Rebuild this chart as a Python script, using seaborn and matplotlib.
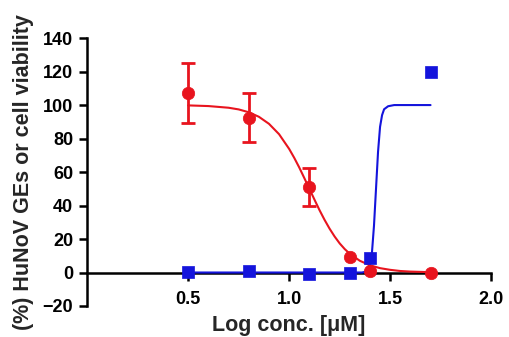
import numpy as np
import pandas as pd
import matplotlib
matplotlib.use("Agg")
import matplotlib.pyplot as plt
import seaborn as sns

# measured points (log conc.)
red_x = [0.5, 0.8, 1.1, 1.3, 1.4, 1.7]
red_y = [107, 92.5, 51, 9.5, 1, 0]
red_err = [18, 14.5, 11.5, 0, 0, 0]

blue_x = [0.5, 0.8, 1.1, 1.3, 1.4, 1.7]
blue_y = [0.5, 1, -1, 0, 8.5, 120]

# fitted curves
red_fit_x = [0.5, 0.6, 0.7, 0.75, 0.8, 0.85, 0.9, 0.95, 1.0, 1.025, 1.05,
             1.075, 1.1, 1.125, 1.15, 1.175, 1.2, 1.225, 1.25, 1.275, 1.3,
             1.35, 1.4, 1.45, 1.5, 1.55, 1.6, 1.7]
red_fit_y = [99.8, 99.4, 98.4, 97.4, 95.7, 93.0, 88.8, 82.6, 73.8, 68.5, 62.7,
             56.4, 50, 43.6, 37.3, 31.5, 26.2, 21.5, 17.4, 14.0, 11.2,
             7.0, 4.3, 2.6, 1.6, 0.9, 0.55, 0.2]

blue_fit_x = [0.5, 1.36, 1.38, 1.40, 1.41, 1.42, 1.43, 1.44, 1.45, 1.46,
              1.47, 1.49, 1.52, 1.7]
blue_fit_y = [0, 0, 0.5, 5, 12, 28, 50, 72, 87, 94, 97.5, 99.3, 100, 100]

x_ticks = [0.5, 1.0, 1.5, 2.0]
y_ticks = [-20, 0, 20, 40, 60, 80, 100, 120, 140]

RED = "#e8141e"
BLUE = "#1414dc"

sns.set_style("ticks")
plt.rcParams["font.family"] = ["Liberation Sans", "DejaVu Sans"]
plt.rcParams["font.weight"] = "bold"

fig = plt.figure(figsize=(5.1, 3.37), dpi=100)
ax = fig.add_axes([0.171, 0.092, 0.792, 0.795])

# fitted lines
sns.lineplot(x=blue_fit_x, y=blue_fit_y, ax=ax, color=BLUE, lw=1.5, zorder=3)
sns.lineplot(x=red_fit_x, y=red_fit_y, ax=ax, color=RED, lw=1.5, zorder=4)

# data points
sns.scatterplot(x=blue_x, y=blue_y, ax=ax, color=BLUE, marker="s", s=75,
                edgecolor=BLUE, linewidth=0.5, zorder=5)
ax.errorbar(red_x[:3], red_y[:3], yerr=red_err[:3], fmt="none", ecolor=RED,
            elinewidth=2, capsize=5, capthick=2, zorder=6)
sns.scatterplot(x=red_x, y=red_y, ax=ax, color=RED, marker="o", s=80,
                edgecolor=RED, linewidth=0.5, zorder=7)

ax.set_xlim(0, 2.0)
ax.set_ylim(-20, 140)
ax.set_xticks(x_ticks)
ax.set_xticklabels([f"{t:.1f}" for t in x_ticks])
ax.set_yticks(y_ticks)

for side in ["top", "right"]:
    ax.spines[side].set_visible(False)
ax.spines["bottom"].set_position(("data", 0))
ax.spines["bottom"].set_zorder(1)
for side in ["left", "bottom"]:
    ax.spines[side].set_linewidth(1.8)
    ax.spines[side].set_color("black")
ax.tick_params(axis="both", direction="out", length=6, width=1.8,
               labelsize=13, colors="black", pad=4)
ax.tick_params(axis="x", pad=7)

ax.set_xlabel("Log conc. [\u03bcM]", fontsize=15.5, fontweight="bold", labelpad=5)
ax.set_ylabel("(%) HuNoV GEs or cell viability", fontsize=15.5,
              fontweight="bold", labelpad=6)

fig.savefig("out.png", dpi=100)
